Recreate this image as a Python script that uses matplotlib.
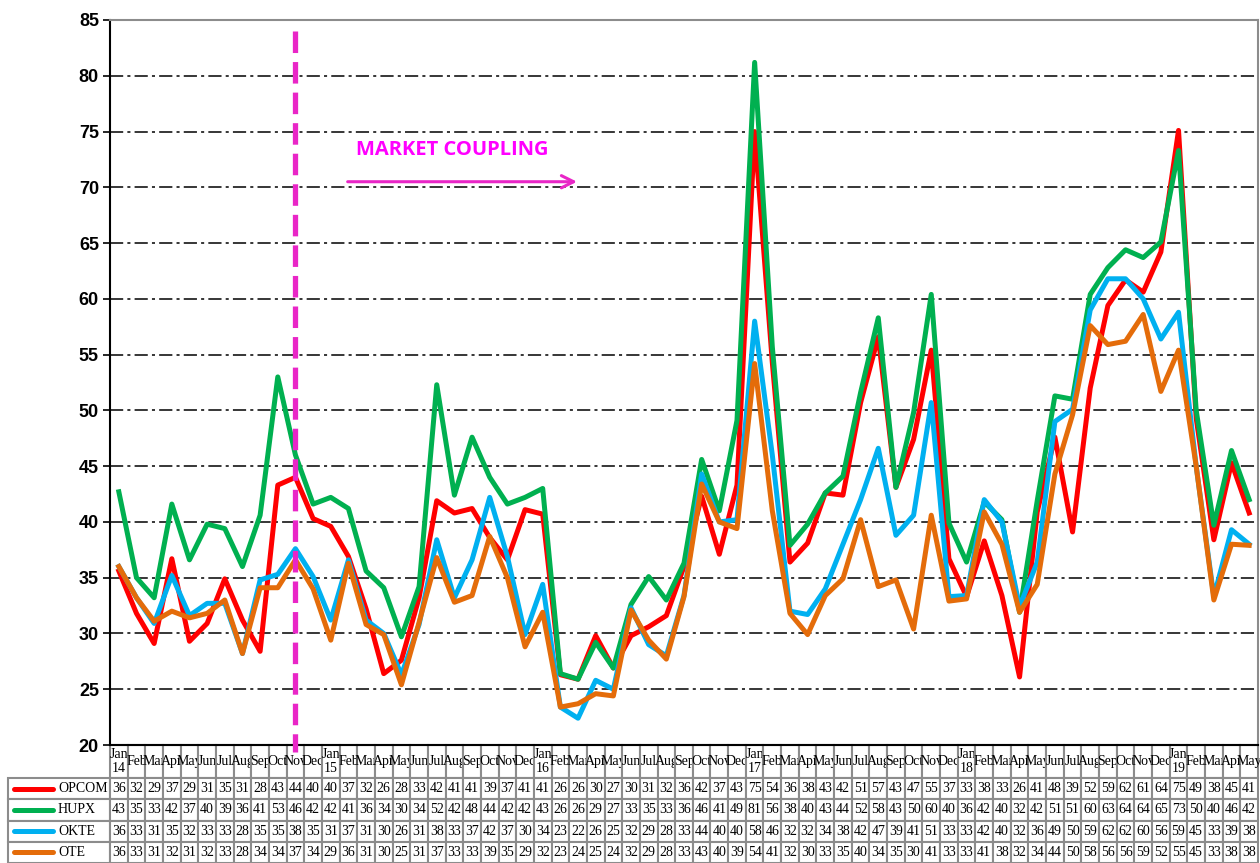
import matplotlib
matplotlib.use("Agg")
import matplotlib.pyplot as plt
from matplotlib.table import Table

plt.rcParams['lines.scale_dashes'] = False

# month labels Jan 2014 .. May 2019
months = ["Jan", "Feb", "Mar", "Apr", "May", "Jun", "Jul", "Aug", "Sep", "Oct", "Nov", "Dec"]
labels = []
for yr in range(14, 20):
    for m in months:
        labels.append(m if m != "Jan" else f"Jan\n{yr}")
labels = labels[:65]

# monthly average prices (EUR/MWh)
opcom = [35.6, 31.8, 29.1, 36.7, 29.3, 30.9, 34.9, 31.2, 28.4, 43.3, 44.0, 40.3,
         39.6, 36.9, 32.2, 26.4, 27.6, 33.2, 41.9, 40.8, 41.2, 38.6, 36.6, 41.1,
         40.7, 26.3, 25.9, 29.8, 26.9, 29.8, 30.6, 31.6, 36.0, 42.3, 37.1, 43.3,
         75.0, 54.3, 36.4, 38.1, 42.6, 42.4, 50.7, 56.6, 43.1, 47.4, 55.4, 36.7,
         33.3, 38.3, 33.4, 26.1, 40.9, 47.6, 39.1, 52.0, 59.4, 61.7, 60.6, 64.2,
         75.1, 49.3, 38.4, 45.3, 40.8]
hupx = [42.7, 35.0, 33.2, 41.6, 36.6, 39.8, 39.4, 36.0, 40.6, 53.0, 46.0, 41.6,
        42.2, 41.2, 35.6, 34.1, 29.7, 34.2, 52.3, 42.4, 47.6, 44.0, 41.6, 42.2,
        43.0, 26.4, 25.9, 29.2, 26.9, 32.6, 35.1, 33.0, 36.3, 45.6, 41.0, 49.1,
        81.2, 55.7, 37.9, 39.8, 42.6, 44.1, 51.6, 58.3, 43.1, 49.8, 60.4, 39.9,
        36.4, 41.8, 40.2, 31.9, 41.9, 51.3, 51.0, 60.4, 62.8, 64.4, 63.7, 65.1,
        73.3, 50.0, 39.7, 46.4, 42.0]
okte = [36.0, 33.2, 30.9, 35.2, 31.6, 32.7, 32.7, 28.2, 34.8, 35.3, 37.6, 35.1,
        31.2, 36.6, 31.2, 30.0, 26.3, 30.8, 38.4, 33.2, 36.6, 42.2, 36.9, 29.9,
        34.4, 23.4, 22.4, 25.8, 25.0, 32.3, 29.0, 28.0, 33.4, 44.3, 40.0, 40.2,
        58.0, 46.0, 32.0, 31.7, 34.0, 38.0, 42.0, 46.6, 38.8, 40.6, 50.7, 33.3,
        33.4, 42.0, 40.0, 32.4, 36.4, 49.0, 50.1, 59.0, 61.8, 61.8, 60.0, 56.4,
        58.8, 45.0, 33.3, 39.3, 38.0]
ote = [36.0, 33.2, 31.1, 32.0, 31.4, 31.8, 33.0, 28.2, 34.1, 34.1, 36.6, 34.0,
       29.4, 36.3, 30.8, 29.9, 25.4, 31.0, 36.8, 32.8, 33.4, 38.7, 35.0, 28.8,
       31.9, 23.4, 23.7, 24.6, 24.4, 32.1, 29.4, 27.7, 33.3, 43.4, 40.0, 39.4,
       54.2, 41.0, 31.8, 29.9, 33.4, 34.9, 40.2, 34.2, 34.8, 30.4, 40.6, 32.9,
       33.1, 40.9, 38.0, 31.9, 34.4, 44.3, 49.6, 57.6, 55.9, 56.2, 58.6, 51.7,
       55.4, 45.0, 33.0, 38.0, 37.9]

series = [("OPCOM", opcom, "#FF0000"),
          ("HUPX", hupx, "#00B050"),
          ("OKTE", okte, "#00B0F0"),
          ("OTE", ote, "#E46C0A")]

coupling_idx = 10  # Nov 2014
magenta = "#E926C7"

W, H = 1260, 863
fig = plt.figure(figsize=(W / 100, H / 100), dpi=100)
ax = fig.add_axes([110 / W, 118 / H, 1148 / W, 725 / H])

x = list(range(len(labels)))
for name, vals, col in series:
    ax.plot(x, vals, color=col, lw=3.6, solid_joinstyle='round', zorder=3)

ax.set_xlim(-0.5, len(labels) - 0.5)
ax.set_ylim(20, 85)
ax.set_yticks(range(20, 86, 5))
ax.set_xticks([])
for t in ax.get_yticklabels():
    t.set_fontfamily("Liberation Sans")
    t.set_fontweight("bold")
    t.set_fontsize(13)
ax.tick_params(axis='y', length=5, width=1.2, pad=3)
for yv in range(25, 85, 5):
    ax.axhline(yv, color="black", lw=1.1, dashes=(9.5, 3, 2.2, 3), zorder=1)
for s in ("top", "right"):
    ax.spines[s].set_color("#8C8C8C")
    ax.spines[s].set_linewidth(1.5)
ax.spines['left'].set_linewidth(1.5)
ax.spines['bottom'].set_linewidth(1.5)

# market coupling marker
ax.plot([coupling_idx, coupling_idx], [84, 19.4], color=magenta, lw=3.8,
        dashes=(15.5, 6.5), clip_on=False, zorder=4)
ax.text(18.9, 73.3, "MARKET COUPLING", color="#FF00FF", fontsize=14.5,
        fontweight="bold", family="Open Sans", ha="center", va="center")
ax.annotate("", xy=(26.1, 70.5), xytext=(12.8, 70.5),
            arrowprops=dict(arrowstyle="->", color=magenta, lw=2.2,
                            mutation_scale=22))

# data table below the axes
head_h, row_h = 33, 21.25
lab_w, col_w = 102, 1148 / len(labels)
tb = Table(ax, bbox=[-lab_w / 1148, -118 / 725, (lab_w + 1148) / 1148, 118 / 725])
grid_col = "#8C8C8C"
c = tb.add_cell(0, 0, lab_w, head_h, text="")
c.visible_edges = "open"
for j, lab in enumerate(labels):
    c = tb.add_cell(0, j + 1, col_w, head_h, text=lab, loc="center")
    c.set_edgecolor(grid_col)
    c.set_linewidth(1.5)
for i, (name, vals, col) in enumerate(series):
    c = tb.add_cell(i + 1, 0, lab_w, row_h, text="")
    c.set_edgecolor(grid_col)
    c.set_linewidth(1.5)
    for j, v in enumerate(vals):
        c = tb.add_cell(i + 1, j + 1, col_w, row_h, text=f"{v:.0f}", loc="center")
        c.set_edgecolor(grid_col)
        c.set_linewidth(1.5)
tb.auto_set_font_size(False)
tb.set_fontsize(10)
for cell in tb.get_celld().values():
    cell.PAD = 0.0
    cell.get_text().set_fontfamily("Liberation Serif")
ax.add_table(tb)

# legend keys inside the row label cells
for i, (name, vals, col) in enumerate(series):
    yc = -(head_h + row_h * (i + 0.5)) / 725
    ax.plot([-96 / 1148, -57 / 1148], [yc, yc], color=col, lw=3.6,
            solid_capstyle="round", transform=ax.transAxes, clip_on=False)
    ax.text(-52 / 1148, yc, name, transform=ax.transAxes, ha="left", va="center",
            fontsize=10, family="Liberation Serif")

fig.savefig("out.png", dpi=100)
